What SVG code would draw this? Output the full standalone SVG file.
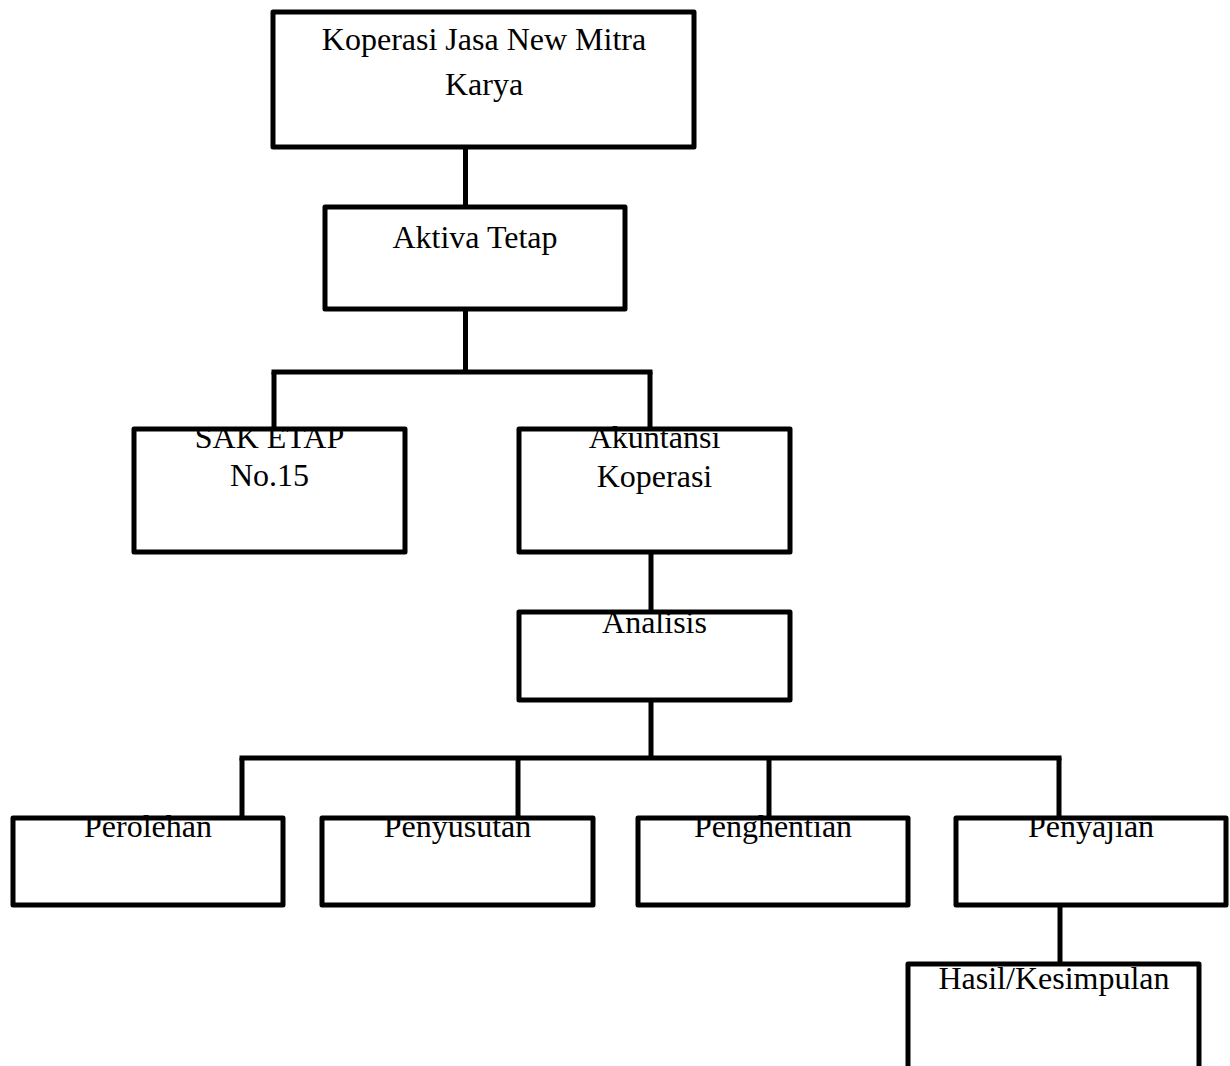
<svg xmlns="http://www.w3.org/2000/svg" width="1230" height="1066" viewBox="0 0 1230 1066">
<style>
.box{fill:none;stroke:#000;stroke-width:5;stroke-linejoin:round}
.lbl{font-family:"Liberation Serif","Times New Roman",serif;font-size:32px;fill:#000;text-anchor:middle}
.conn line{stroke:#000;stroke-width:5}
</style>
<rect width="1230" height="1066" fill="#fff"/>
<g id="connectors" class="conn">
<line x1="465.5" y1="147" x2="465.5" y2="207"/>
<line x1="465.5" y1="309" x2="465.5" y2="372"/>
<line x1="271.5" y1="372" x2="652.5" y2="372"/>
<line x1="274" y1="372" x2="274" y2="429"/>
<line x1="650" y1="372" x2="650" y2="429"/>
<line x1="651" y1="552" x2="651" y2="612"/>
<line x1="651" y1="700" x2="651" y2="758"/>
<line x1="239.5" y1="758" x2="1061.5" y2="758"/>
<line x1="242" y1="758" x2="242" y2="818"/>
<line x1="518" y1="758" x2="518" y2="818"/>
<line x1="769" y1="758" x2="769" y2="818"/>
<line x1="1059" y1="758" x2="1059" y2="818"/>
<line x1="1060" y1="905" x2="1060" y2="964"/>
</g>
<g id="n-koperasi">
<text class="lbl" x="484" y="50">Koperasi Jasa New Mitra</text>
<text class="lbl" x="484" y="95">Karya</text>
<rect class="box" x="273" y="12" width="421" height="135"/>
</g>
<g id="n-aktiva">
<text class="lbl" x="475" y="248">Aktiva Tetap</text>
<rect class="box" x="325" y="207" width="300" height="102"/>
</g>
<g id="n-sak">
<text class="lbl" x="269.5" y="448">SAK ETAP</text>
<text class="lbl" x="269.5" y="486">No.15</text>
<rect class="box" x="134" y="429" width="271" height="123"/>
</g>
<g id="n-akuntansi">
<text class="lbl" x="654.5" y="448">Akuntansi</text>
<text class="lbl" x="654.5" y="487">Koperasi</text>
<rect class="box" x="519" y="429" width="271" height="123"/>
</g>
<g id="n-analisis">
<text class="lbl" x="654.5" y="633">Analisis</text>
<rect class="box" x="519" y="612" width="271" height="88"/>
</g>
<g id="n-perolehan">
<text class="lbl" x="148" y="837">Perolehan</text>
<rect class="box" x="13" y="818" width="270" height="87"/>
</g>
<g id="n-penyusutan">
<text class="lbl" x="457.5" y="837">Penyusutan</text>
<rect class="box" x="322" y="818" width="271" height="87"/>
</g>
<g id="n-penghentian">
<text class="lbl" x="773" y="837">Penghentian</text>
<rect class="box" x="638" y="818" width="270" height="87"/>
</g>
<g id="n-penyajian">
<text class="lbl" x="1091" y="837">Penyajian</text>
<rect class="box" x="956" y="818" width="270" height="87"/>
</g>
<g id="n-hasil">
<text class="lbl" x="1054" y="989">Hasil/Kesimpulan</text>
<path class="box" d="M908,1070 V964 H1199 V1070"/>
</g>
</svg>
